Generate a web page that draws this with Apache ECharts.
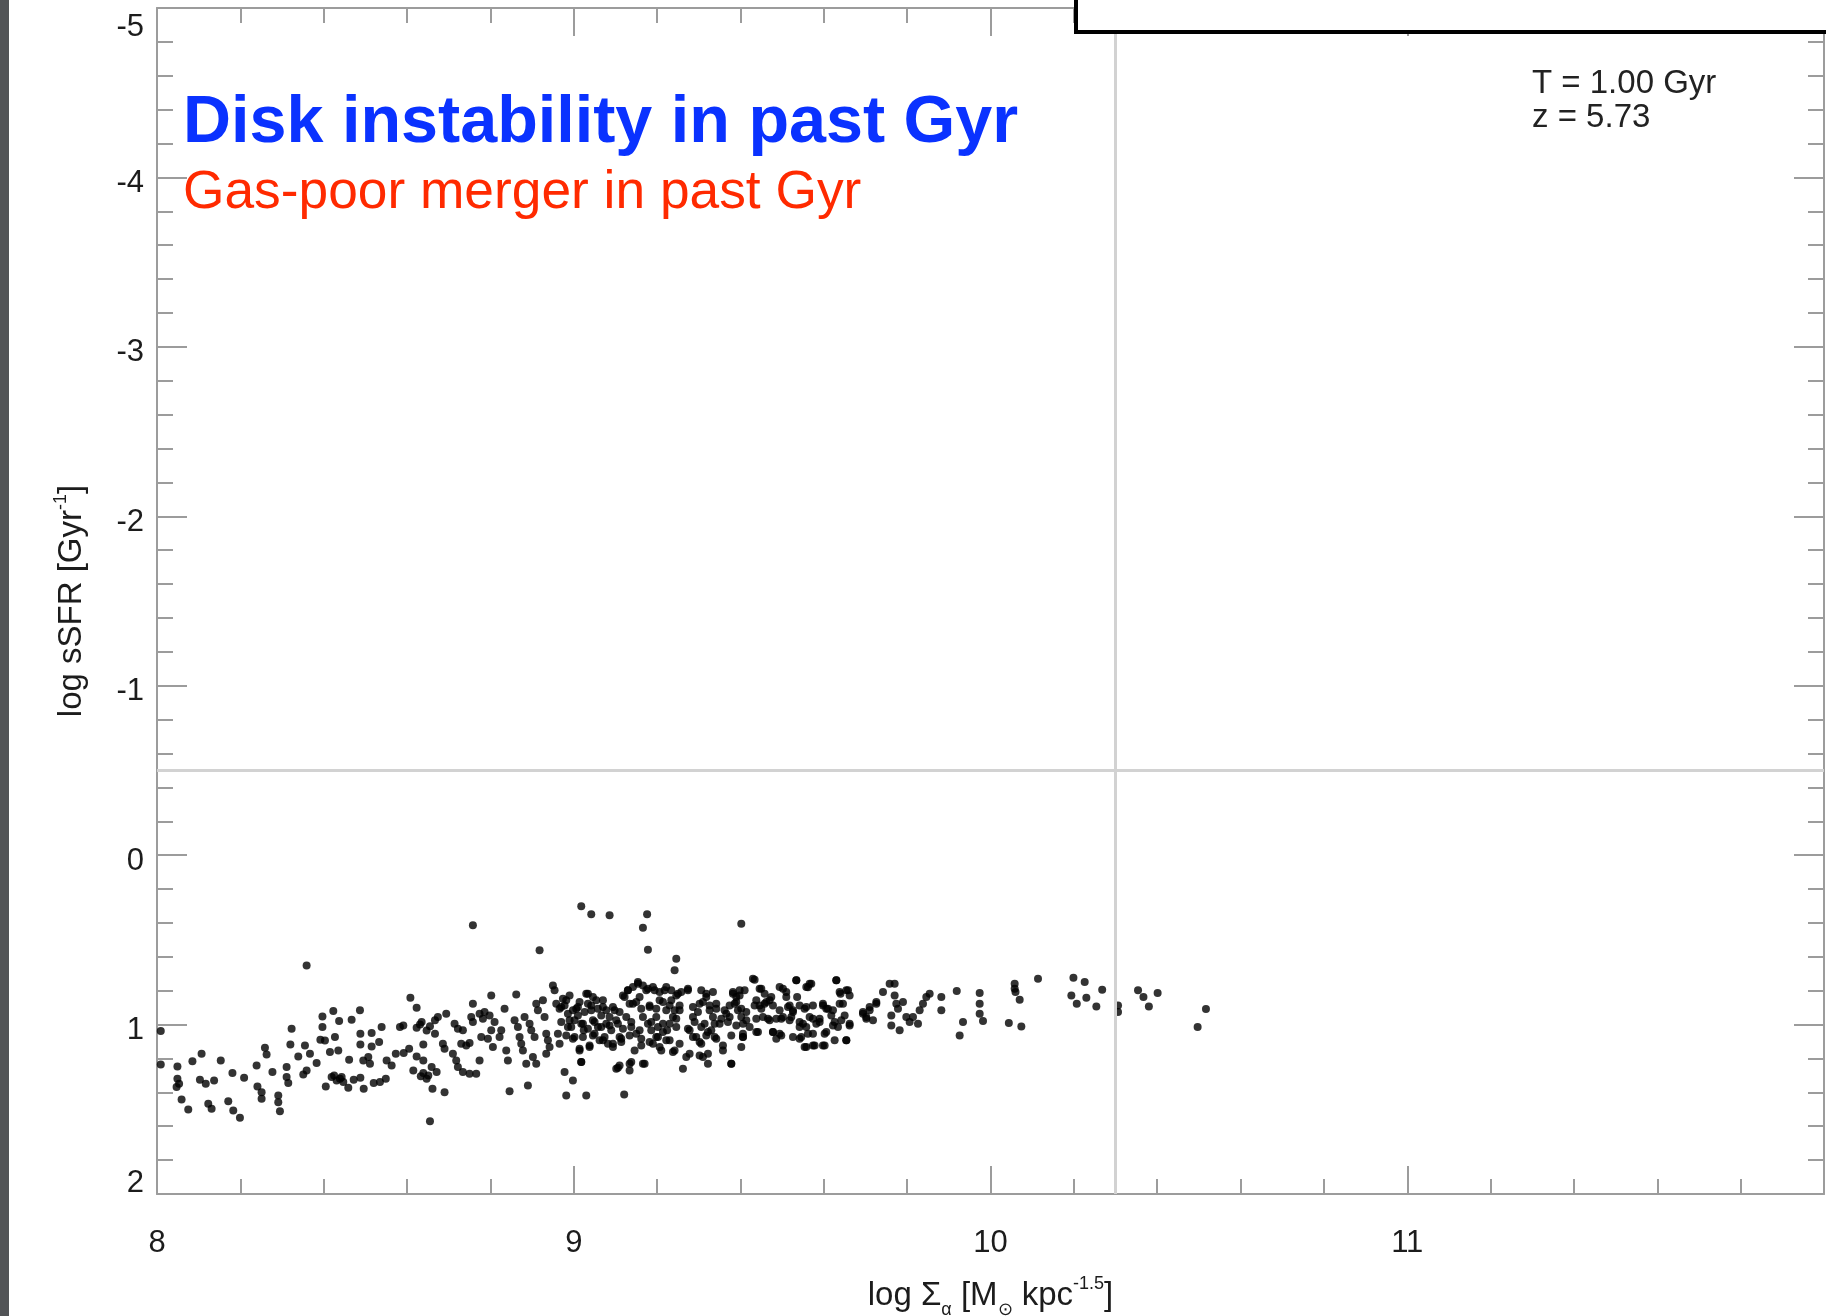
<!DOCTYPE html>
<html>
<head>
<meta charset="utf-8">
<title>log sSFR vs log Sigma</title>
<script src="https://cdn.jsdelivr.net/npm/echarts@6/dist/echarts.min.js"></script>
<style>
  html, body { margin: 0; padding: 0; background: #ffffff; }
  #chart { width: 1826px; height: 1316px; }
</style>
</head>
<body>
<div id="chart"></div>
<script>
// Galaxies: [log Sigma_alpha, log sSFR], grouped by surface density range
const galaxiesLow = [
  [8.009,1.038],[8.009,1.235],[8.049,1.247],[8.049,1.320],[8.053,1.349],[8.047,1.369],[8.059,1.442],[8.075,1.501],
  [8.085,1.216],[8.107,1.172],[8.103,1.326],[8.117,1.349],[8.137,1.330],[8.123,1.468],[8.131,1.497],[8.153,1.212],
  [8.171,1.452],[8.181,1.286],[8.183,1.507],[8.199,1.550],[8.209,1.314],[8.239,1.241],[8.241,1.365],[8.251,1.399],
  [8.251,1.438],[8.259,1.137],[8.263,1.176],[8.277,1.280],[8.291,1.418],[8.291,1.458],[8.295,1.511],[8.311,1.251],
  [8.311,1.310],[8.315,1.345],[8.320,1.117],[8.323,1.025],[8.339,1.188],[8.351,1.294],[8.355,1.123],[8.359,1.271],
  [8.367,1.172],[8.383,1.227],[8.392,1.090],[8.397,1.015],[8.397,0.952],[8.403,1.094],[8.405,1.365],[8.415,1.162],
  [8.419,1.310],[8.423,0.920],[8.427,1.074],[8.431,1.330],[8.435,1.153],[8.437,0.979],[8.439,1.320],[8.447,1.339],
  [8.459,1.373],[8.461,1.208],[8.467,0.972],[8.472,1.326],[8.487,0.916],[8.488,1.054],[8.488,1.117],[8.488,1.314],
  [8.496,1.379],[8.495,1.212],[8.507,1.192],[8.511,1.231],[8.515,1.050],[8.515,1.129],[8.520,1.345],[8.533,1.103],
  [8.535,1.339],[8.539,1.015],[8.549,1.320],[8.551,1.212],[8.563,1.241],[8.573,1.172],[8.583,1.015],[8.591,1.005],
  [8.592,1.168],[8.605,1.143],[8.608,0.842],[8.623,0.901],[8.623,1.019],[8.615,1.271],[8.623,1.188],[8.635,0.985],
  [8.639,1.117],[8.639,1.212],[8.639,1.286],[8.647,1.035],[8.647,1.320],[8.655,1.570],[8.661,1.379],[8.659,1.251],
  [8.667,0.975],[8.667,1.054],[8.671,1.280],[8.359,0.651],[8.425,1.300],[8.443,1.310],[8.631,1.000],[8.655,1.010],
  [8.651,1.300],[8.633,1.305]
];

const galaxiesMid = [
  [9.018,0.302],[9.042,0.349],[9.086,0.355],[9.176,0.349],[9.166,0.428],[9.178,0.558],[8.758,0.414],[8.918,0.562],
  [9.246,0.611],[9.242,0.680],
  [8.674,0.956],[8.694,0.936],[8.686,1.113],[8.690,1.143],[8.690,1.399],[8.714,0.995],[8.722,1.025],[8.734,1.034],
  [8.710,1.172],[8.718,1.212],[8.722,1.251],[8.734,1.280],[8.750,1.290],[8.766,1.290],[8.730,1.113],[8.742,1.123],
  [8.750,1.109],[8.758,0.877],[8.754,0.956],[8.758,0.985],[8.774,0.936],[8.778,1.074],[8.774,1.212],[8.782,0.965],
  [8.786,0.926],[8.798,0.946],[8.802,0.828],[8.802,1.034],[8.794,1.084],[8.806,1.133],[8.810,0.985],[8.822,1.074],
  [8.826,1.034],[8.834,0.906],[8.838,1.153],[8.842,1.212],[8.846,1.393],[8.862,0.822],[8.858,0.975],[8.866,1.015],
  [8.870,1.074],[8.874,1.113],[8.878,1.153],[8.882,0.956],[8.886,1.231],[8.890,1.359],[8.894,0.995],[8.898,1.034],
  [8.902,1.192],[8.910,1.231],[8.906,1.074],[8.910,0.877],[8.914,0.916],[8.926,0.857],[8.930,0.956],[8.934,1.054],
  [8.938,1.093],[8.934,1.172],[8.942,1.133],[8.950,0.769],[8.954,0.798],[8.958,0.877],[8.962,1.054],[8.966,1.113],
  [8.970,0.897],[8.978,1.280],[8.982,0.857],[8.986,0.936],[8.990,0.975],[8.994,1.015],[8.998,1.330],[9.002,1.074],
  [9.006,0.906],[9.010,0.946],[9.014,1.153],[9.018,1.221],[9.022,0.995],[9.024,1.034],[9.030,0.818],[9.034,0.877],
  [9.038,1.133],[9.042,0.916],[9.046,0.975],[9.050,1.054],[9.054,0.857],[9.058,1.015],[9.062,1.093],[9.066,0.946],
  [9.070,0.897],[9.074,1.074],[9.078,0.995],[9.082,1.113],[9.086,0.956],[9.090,1.034],[9.094,1.133],[9.098,0.916],
  [9.102,1.261],[9.106,0.995],[9.110,1.074],[9.114,1.103],[9.122,0.838],[9.126,0.956],[9.130,0.798],[9.134,1.231],
  [9.134,1.271],[9.138,1.015],[9.142,0.877],[9.146,1.153],[9.150,1.054],[9.154,0.759],[9.158,0.838],[9.162,1.123],
  [9.166,0.956],[9.170,1.231],[9.174,0.798],[9.178,0.995],[9.182,0.897],[9.186,1.034],[9.190,1.113],[9.194,0.798],
  [9.198,0.956],[9.202,1.074],[9.206,0.857],[9.210,1.153],[9.214,0.995],[9.218,0.798],[9.222,0.916],[9.224,1.034],
  [9.230,1.093],[9.234,0.857],[9.238,0.956],[9.242,1.153],[9.246,1.015],[9.250,0.818],[9.254,0.916],[9.262,1.261],
  [9.270,1.192],[9.274,0.798],[9.278,1.034],[9.286,0.956],[9.294,1.074],[9.302,0.877],[9.306,1.113],[9.310,1.192],
  [9.314,0.995],[9.318,0.838],[9.322,1.231],[9.326,0.916],[9.330,1.034],[9.334,0.956],[9.338,1.074],[9.342,0.877],
  [8.982,1.418],[9.030,1.418],[9.121,1.412],[9.106,1.255]
];

// the crowded core of the sequence, 9.0 < log Sigma < 9.7
const galaxiesCore = [
  [8.974,0.847],[8.990,0.828],[9.014,0.867],[9.034,0.818],[9.046,0.838],[9.070,0.857],[9.118,0.828],[9.130,0.798],
  [9.142,0.778],[9.154,0.749],[9.166,0.769],[9.178,0.788],[9.190,0.778],[9.206,0.808],[9.222,0.778],[9.234,0.798],
  [9.246,0.828],[9.258,0.808],[9.274,0.788],[9.306,0.798],[9.318,0.818],[9.334,0.808],[9.382,0.808],[9.398,0.828],
  [9.410,0.798],[9.430,0.729],[9.446,0.788],[9.458,0.818],[9.474,0.838],[9.494,0.778],[9.510,0.808],[9.534,0.739],
  [9.558,0.778],[9.566,0.759],[9.598,0.887],[9.630,0.739],[9.638,0.808],[9.654,0.798],[9.662,0.828],
  [8.966,0.906],[8.978,0.887],[8.998,0.916],[9.010,0.897],[9.026,0.926],[9.042,0.887],[9.058,0.906],[9.078,0.916],
  [9.094,0.897],[9.110,0.926],[9.134,0.877],[9.150,0.867],[9.162,0.906],[9.182,0.887],[9.198,0.906],[9.214,0.867],
  [9.230,0.887],[9.242,0.916],[9.254,0.887],[9.286,0.897],[9.298,0.926],[9.310,0.867],[9.326,0.887],[9.342,0.906],
  [9.362,0.916],[9.374,0.887],[9.390,0.867],[9.402,0.906],[9.414,0.926],[9.434,0.887],[9.450,0.906],[9.462,0.867],
  [9.478,0.887],[9.494,0.916],[9.518,0.887],[9.526,0.926],[9.542,0.887],[9.554,0.906],[9.574,0.887],[9.606,0.906],
  [9.622,0.916],[9.638,0.877],[9.650,0.946],[9.694,0.926],[9.710,0.897],[9.726,0.877],
  [8.970,0.985],[8.986,1.015],[9.002,0.975],[9.018,0.995],[9.034,1.024],[9.050,0.985],[9.066,1.015],[9.086,1.005],
  [9.102,0.975],[9.118,1.024],[9.138,0.985],[9.158,1.034],[9.186,0.985],[9.202,1.015],[9.214,1.044],[9.230,0.995],
  [9.246,0.965],[9.274,1.024],[9.290,0.985],[9.306,1.015],[9.322,1.044],[9.338,0.995],[9.354,0.965],[9.370,0.985],
  [9.390,1.005],[9.406,1.054],[9.438,0.965],[9.454,0.956],[9.470,0.975],[9.486,0.965],[9.502,0.956],[9.518,0.975],
  [9.542,0.985],[9.558,1.015],[9.574,0.965],[9.590,0.985],[9.606,1.044],[9.622,1.005],[9.642,0.975],[9.662,0.995],
  [9.702,0.965],
  [8.982,1.064],[8.998,1.083],[9.022,1.074],[9.046,1.064],[9.070,1.093],[9.094,1.113],[9.114,1.083],[9.134,1.064],
  [9.162,1.083],[9.182,1.103],[9.198,1.074],[9.206,1.133],[9.222,1.093],[9.238,1.162],[9.254,1.113],[9.286,1.074],
  [9.302,1.103],[9.318,1.064],[9.342,1.083],[9.358,1.123],[9.378,1.064],[9.406,1.074],[9.438,1.044],[9.478,1.044],
  [9.498,1.064],[9.526,1.074],[9.542,1.083],[9.562,1.054],[9.574,1.123],[9.598,1.123],[9.626,1.093],[9.654,1.093],
  [9.014,1.143],[9.038,1.123],[9.018,1.221],[9.110,1.241],[9.138,1.221],[9.166,1.231],[9.278,1.172],[9.302,1.182],
  [9.322,1.172],[9.378,1.231],[9.558,1.133]
];

const galaxiesHigh = [
  [9.402,0.405],[9.358,1.153],[9.378,1.231],[9.350,0.995],[9.382,0.818],[9.390,0.838],[9.398,0.798],[9.386,0.877],
  [9.394,0.916],[9.374,0.956],[9.366,0.936],[9.402,0.956],[9.406,0.995],[9.414,0.975],[9.422,1.015],[9.406,1.074],
  [9.402,1.133],[9.442,1.044],[9.434,0.735],[9.450,0.788],[9.438,0.857],[9.446,0.887],[9.458,0.877],[9.470,0.857],
  [9.466,0.965],[9.478,1.044],[9.486,1.084],[9.494,1.054],[9.498,0.965],[9.502,0.788],[9.510,0.838],[9.514,0.897],
  [9.522,0.956],[9.526,0.916],[9.534,0.739],[9.536,0.838],[9.542,1.015],[9.546,1.074],[9.550,0.995],[9.554,1.133],
  [9.558,0.897],[9.562,0.779],[9.566,0.956],[9.570,0.759],[9.574,1.054],[9.578,1.123],[9.582,0.995],[9.590,0.965],
  [9.598,0.877],[9.602,1.054],[9.602,1.123],[9.610,0.906],[9.618,0.946],[9.626,0.985],[9.630,0.739],[9.634,1.015],
  [9.640,0.818],[9.646,0.877],[9.654,1.093],[9.658,0.798],[9.662,1.005],[9.694,0.936],[9.702,0.956],[9.710,0.916],
  [9.718,0.975],[9.726,0.867],[9.742,0.808],[9.758,0.759],[9.770,0.759],[9.762,0.946],[9.762,1.005],[9.770,0.828],
  [9.774,0.877],[9.778,0.906],[9.782,1.034],[9.790,0.867],[9.798,0.956],[9.806,0.985],[9.814,0.956],[9.826,0.995],
  [9.830,0.916],[9.838,0.877],[9.846,0.838],[9.854,0.818],[9.882,0.838],[9.882,0.916],[9.919,0.802],[9.934,0.985],
  [9.926,1.064],[9.974,0.814],[9.974,0.877],[9.974,0.936],[9.982,0.979]
];

const galaxiesDense = [
  [10.058,0.759],[10.058,0.788],[10.060,0.808],[10.070,0.853],[10.114,0.729],[10.044,0.991],[10.074,1.011],
  [10.199,0.723],[10.226,0.749],[10.194,0.828],[10.207,0.877],[10.230,0.842],[10.254,0.893],[10.268,0.794],
  [10.306,0.887],[10.306,0.926],[10.354,0.798],[10.367,0.838],[10.401,0.814],[10.380,0.893],[10.497,1.015],
  [10.517,0.908]
];

// Reference cuts drawn as thin grey guide lines
const sigmaCut = 10.3;
const ssfrCut = -0.5;

// Axis ranges
const xRange = [8, 12];
const yRange = [-5, 2];

const FONT = "'Liberation Sans', Arial, Helvetica, sans-serif";
const AXIS_GREY = '#9c9c9c';
const TEXT_GREY = '#1c1c1c';

const chart = echarts.init(document.getElementById('chart'), null, { renderer: 'canvas' });

function xAxisCfg(isMain) {
  return {
    type: 'value',
    position: isMain ? 'bottom' : 'top',
    min: xRange[0], max: xRange[1], interval: 1,
    axisLine: { show: true, onZero: false, lineStyle: { color: AXIS_GREY, width: 2 } },
    axisTick: { show: true, inside: true, length: 28, lineStyle: { color: AXIS_GREY, width: 2 } },
    minorTick: { show: true, splitNumber: 5, length: 15, lineStyle: { color: AXIS_GREY, width: 2 } },
    splitLine: { show: false },
    minorSplitLine: { show: false },
    axisLabel: isMain ? {
      show: true, margin: 34, fontSize: 31, color: TEXT_GREY, fontFamily: FONT, showMaxLabel: false
    } : { show: false },
    name: isMain ? '{t|log Σ}{sub|α}{t| [M}{sub|⊙}{t| kpc}{sup|-1.5}{t|]}' : '',
    nameLocation: 'middle',
    nameGap: 77,
    nameTextStyle: {
      fontFamily: FONT, color: TEXT_GREY,
      rich: {
        t: { fontSize: 33, fontFamily: FONT, color: TEXT_GREY, lineHeight: 50, verticalAlign: 'middle' },
        sub: { fontSize: 18, fontFamily: FONT, color: TEXT_GREY, lineHeight: 50, verticalAlign: 'bottom', padding: [0, 0, 2, 0] },
        sup: { fontSize: 18, fontFamily: FONT, color: TEXT_GREY, lineHeight: 50, verticalAlign: 'top', padding: [4, 0, 0, 0] }
      }
    }
  };
}

function yAxisCfg(isMain) {
  return {
    type: 'value',
    position: isMain ? 'left' : 'right',
    inverse: true,
    min: yRange[0], max: yRange[1], interval: 1,
    axisLine: { show: true, onZero: false, lineStyle: { color: AXIS_GREY, width: 2 } },
    axisTick: { show: true, inside: true, length: 30, lineStyle: { color: AXIS_GREY, width: 2 } },
    minorTick: { show: true, splitNumber: 5, length: 16, lineStyle: { color: AXIS_GREY, width: 2 } },
    splitLine: { show: false },
    minorSplitLine: { show: false },
    axisLabel: isMain ? {
      show: true, margin: 13,
      // the end labels are nudged inside the frame, the rest sit just below their ticks
      formatter: function (v) {
        if (v === yRange[0]) return '{first|' + v + '}';
        if (v === yRange[1]) return '{last|' + v + '}';
        return '{n|' + v + '}';
      },
      rich: {
        n: { fontSize: 31, fontFamily: FONT, color: TEXT_GREY, padding: [12, 0, 0, 0] },
        first: { fontSize: 31, fontFamily: FONT, color: TEXT_GREY, padding: [38, 0, 0, 0] },
        last: { fontSize: 31, fontFamily: FONT, color: TEXT_GREY, padding: [0, 0, 22, 0] }
      }
    } : { show: false },
    name: isMain ? '{t|log sSFR [Gyr}{sup|-1}{t|]}' : '',
    nameLocation: 'middle',
    nameGap: 62,
    nameRotate: 90,
    nameTextStyle: {
      fontFamily: FONT, color: TEXT_GREY,
      rich: {
        t: { fontSize: 33, fontFamily: FONT, color: TEXT_GREY, lineHeight: 46, verticalAlign: 'middle' },
        sup: { fontSize: 18, fontFamily: FONT, color: TEXT_GREY, lineHeight: 46, verticalAlign: 'top', padding: [3, 0, 0, 0] }
      }
    }
  };
}

const option = {
  animation: false,
  backgroundColor: '#ffffff',
  grid: { left: 157, right: 2, top: 8, bottom: 122, containLabel: false, outerBoundsMode: 'none' },
  xAxis: [xAxisCfg(true), xAxisCfg(false)],
  yAxis: [yAxisCfg(true), yAxisCfg(false)],
  series: [
    {
      // guide lines at the sSFR and surface-density cuts
      type: 'scatter',
      data: [],
      z: 1,
      silent: true,
      markLine: {
        silent: true,
        symbol: ['none', 'none'],
        label: { show: false },
        lineStyle: { color: '#d2d2d2', width: 3, type: 'solid' },
        emphasis: { disabled: true },
        data: [{ yAxis: ssfrCut }, { xAxis: sigmaCut }]
      }
    },
    {
      type: 'scatter',
      z: 3,
      symbol: 'circle',
      symbolSize: 8,
      itemStyle: { color: '#000000' },
      data: [].concat(galaxiesLow, galaxiesMid, galaxiesCore, galaxiesHigh, galaxiesDense)
    }
  ],
  graphic: [
    { type: 'rect', z: 100, shape: { x: 0, y: 0, width: 9, height: 1316 }, style: { fill: '#525457' } },
    { type: 'rect', z: 100, shape: { x: 1076, y: -30, width: 800, height: 62 },
      style: { fill: '#ffffff', stroke: '#000000', lineWidth: 4 } },
    { type: 'text', z: 100, x: 183, y: 124,
      style: { text: 'Disk instability in past Gyr', fill: '#0a32ff', font: 'bold 66.5px ' + FONT, verticalAlign: 'middle' } },
    { type: 'text', z: 100, x: 183, y: 193,
      style: { text: 'Gas-poor merger in past Gyr', fill: '#ff2a00', font: '53.3px ' + FONT, verticalAlign: 'middle' } },
    { type: 'text', z: 100, x: 1532, y: 84,
      style: { text: 'T = 1.00 Gyr', fill: '#222222', font: '33px ' + FONT, verticalAlign: 'middle' } },
    { type: 'text', z: 100, x: 1532, y: 118,
      style: { text: 'z = 5.73', fill: '#222222', font: '33px ' + FONT, verticalAlign: 'middle' } }
  ]
};

chart.setOption(option);
</script>
</body>
</html>
